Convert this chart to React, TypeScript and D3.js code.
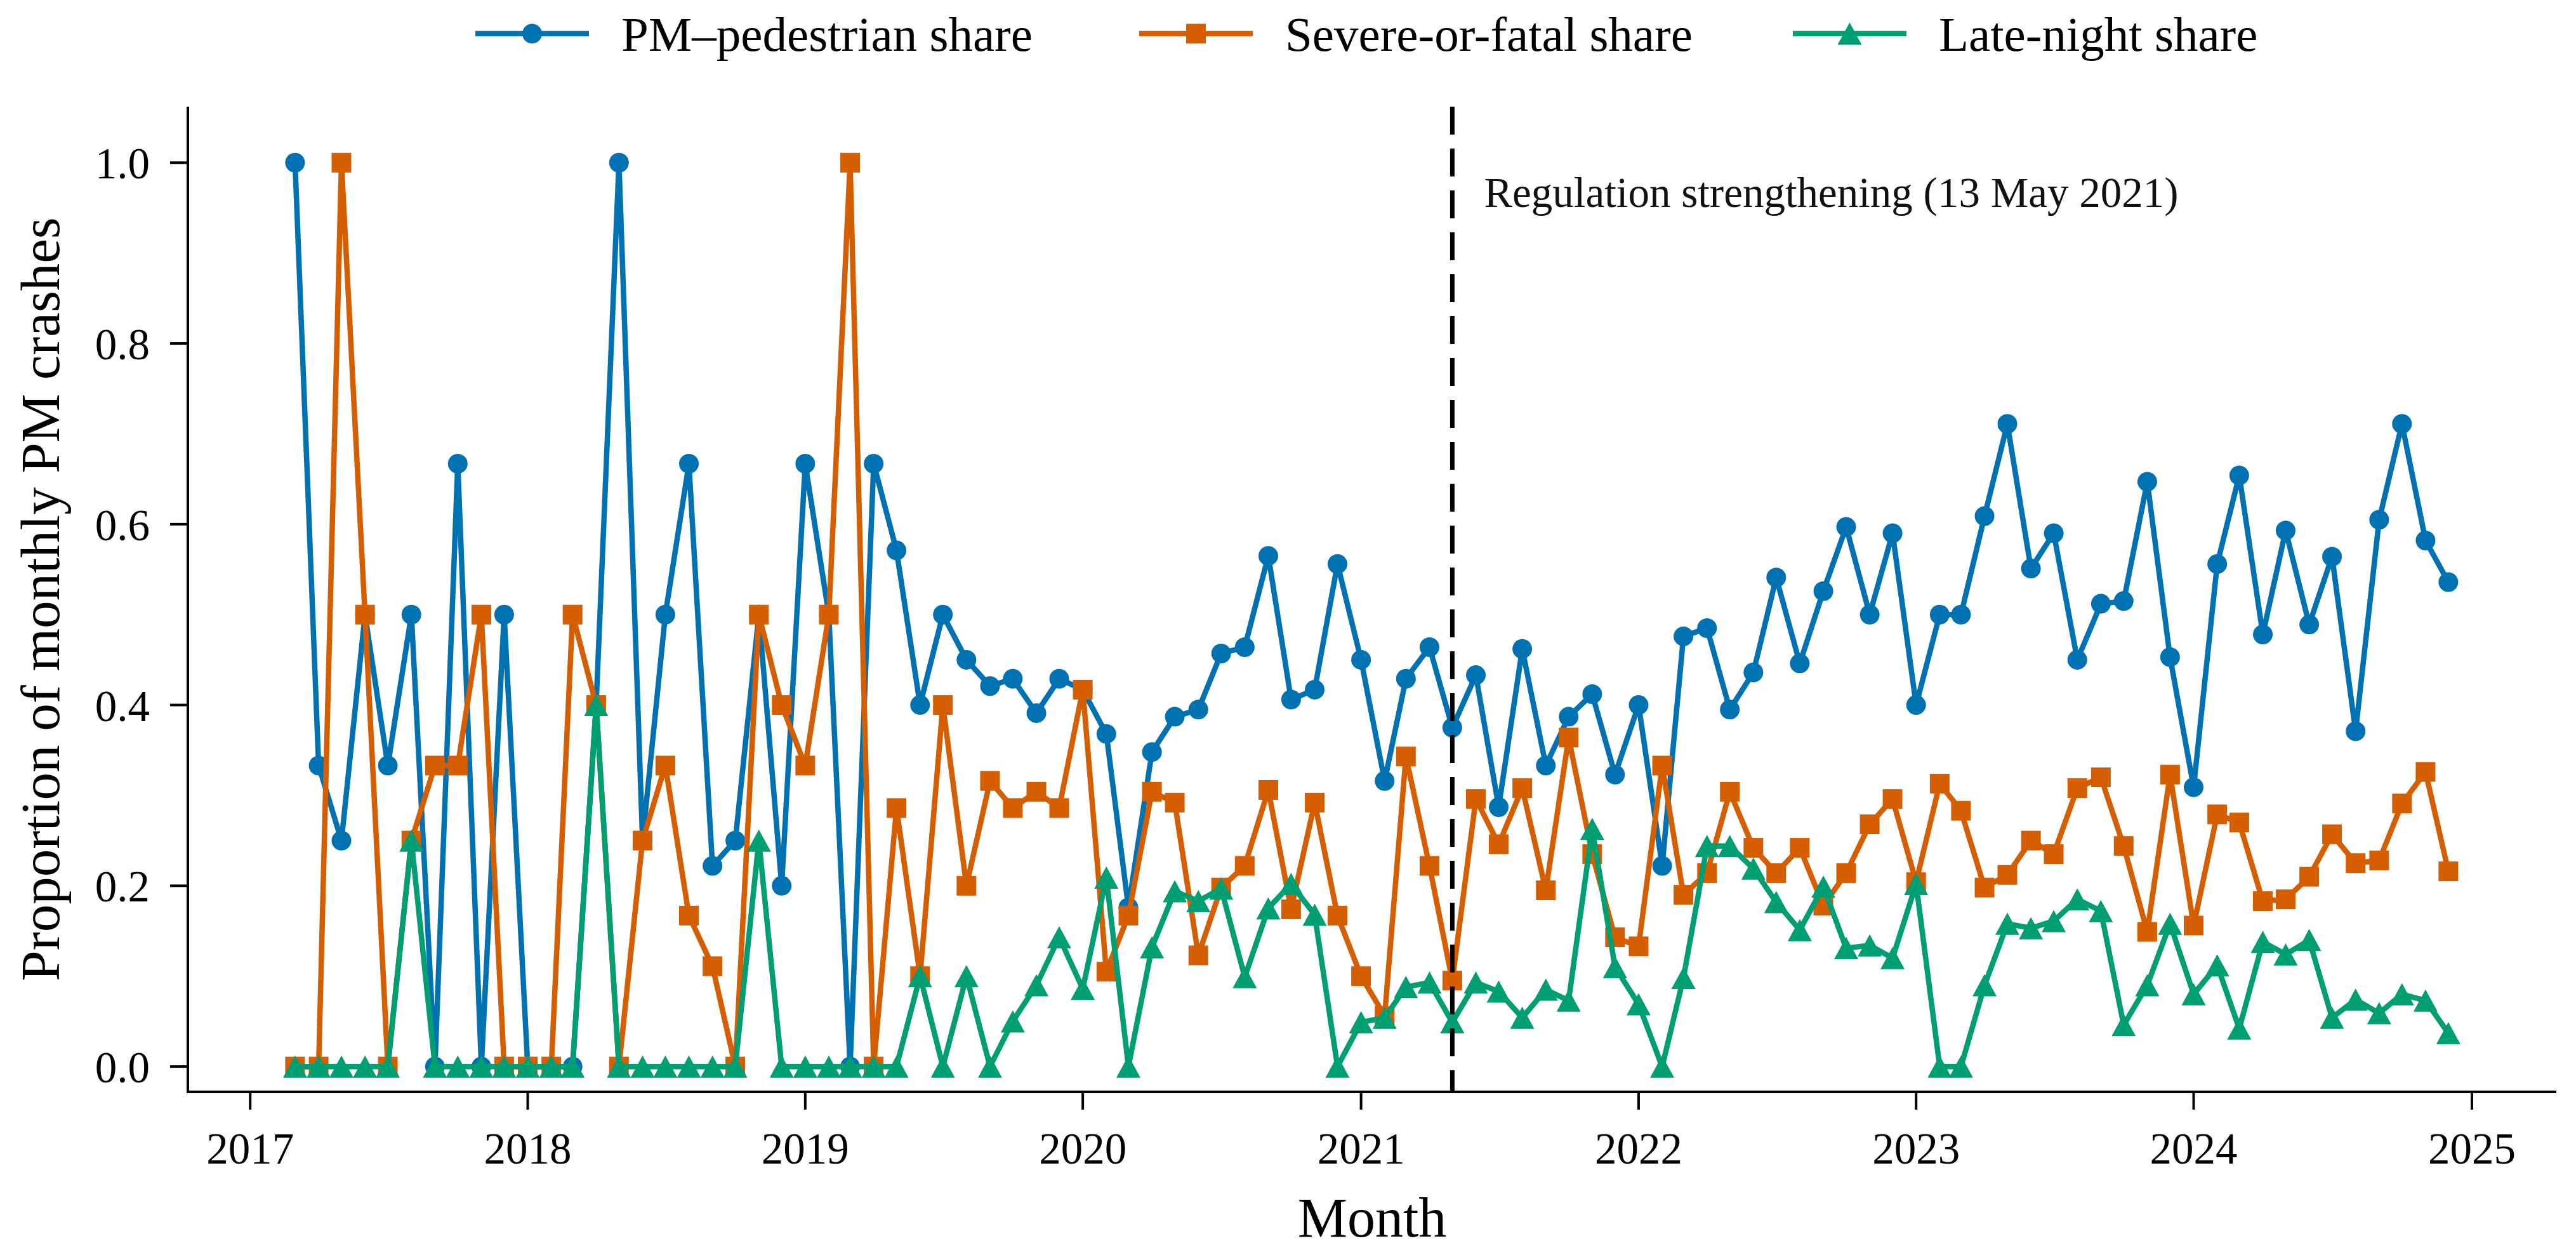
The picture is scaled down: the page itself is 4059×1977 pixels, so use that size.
import React from 'react';
import * as d3 from 'd3';

// ---------- data ----------
const firstMonth = new Date(Date.UTC(2017, 2, 1));
const endMonthExclusive = new Date(Date.UTC(2025, 0, 1));
const months: Date[] = d3.utcMonth.range(firstMonth, endMonthExclusive); // Mar 2017 .. Dec 2024

const pedestrianShare = [
  // 2017 Mar-Dec
  1.0, 0.333, 0.25, 0.5, 0.333, 0.5, 0.0, 0.667, 0.0, 0.5,
  // 2018
  0.0, 0.0, 0.0, 0.4, 1.0, 0.25, 0.5, 0.667, 0.222, 0.25, 0.5, 0.2,
  // 2019
  0.667, 0.5, 0.0, 0.667, 0.571, 0.4, 0.5, 0.45, 0.421, 0.429, 0.391, 0.429,
  // 2020
  0.417, 0.368, 0.176, 0.348, 0.387, 0.395, 0.457, 0.464, 0.565, 0.406, 0.417, 0.556,
  // 2021
  0.45, 0.316, 0.429, 0.464, 0.375, 0.433, 0.287, 0.462, 0.333, 0.387, 0.412, 0.323,
  // 2022
  0.4, 0.222, 0.476, 0.485, 0.395, 0.436, 0.541, 0.446, 0.526, 0.597, 0.5, 0.59,
  // 2023
  0.4, 0.5, 0.5, 0.609, 0.711, 0.551, 0.59, 0.45, 0.512, 0.515, 0.647, 0.453,
  // 2024
  0.309, 0.556, 0.654, 0.478, 0.593, 0.489, 0.564, 0.371, 0.605, 0.711, 0.582, 0.536,
];

const severeShare = [
  0.0, 0.0, 1.0, 0.5, 0.0, 0.25, 0.333, 0.333, 0.5, 0.0,
  0.0, 0.0, 0.5, 0.4, 0.0, 0.25, 0.333, 0.167, 0.111, 0.0, 0.5, 0.4,
  0.333, 0.5, 1.0, 0.0, 0.286, 0.1, 0.4, 0.2, 0.316, 0.286, 0.304, 0.286,
  0.417, 0.105, 0.167, 0.304, 0.292, 0.123, 0.198, 0.222, 0.306, 0.174, 0.292, 0.167,
  0.1, 0.056, 0.343, 0.222, 0.095, 0.296, 0.246, 0.308, 0.195, 0.364, 0.235, 0.143,
  0.133, 0.333, 0.19, 0.214, 0.304, 0.242, 0.214, 0.242, 0.178, 0.214, 0.268, 0.296,
  0.204, 0.313, 0.283, 0.198, 0.212, 0.25, 0.235, 0.308, 0.32, 0.244, 0.149, 0.323,
  0.156, 0.279, 0.27, 0.183, 0.185, 0.21, 0.257, 0.225, 0.228, 0.291, 0.326, 0.216,
];

const lateNightShare = [
  0.0, 0.0, 0.0, 0.0, 0.0, 0.25, 0.0, 0.0, 0.0, 0.0,
  0.0, 0.0, 0.0, 0.4, 0.0, 0.0, 0.0, 0.0, 0.0, 0.0, 0.25, 0.0,
  0.0, 0.0, 0.0, 0.0, 0.0, 0.1, 0.0, 0.1, 0.0, 0.05, 0.09, 0.143,
  0.086, 0.209, 0.0, 0.132, 0.194, 0.183, 0.197, 0.099, 0.175, 0.202, 0.168, 0.0,
  0.049, 0.054, 0.088, 0.093, 0.049, 0.093, 0.083, 0.054, 0.085, 0.073, 0.263, 0.11,
  0.069, 0.0, 0.098, 0.244, 0.244, 0.219, 0.182, 0.151, 0.199, 0.131, 0.134, 0.12,
  0.202, 0.0, 0.0, 0.09, 0.158, 0.153, 0.161, 0.185, 0.172, 0.046, 0.09, 0.158,
  0.08, 0.112, 0.042, 0.138, 0.124, 0.14, 0.054, 0.074, 0.059, 0.08, 0.073, 0.037,
];

const seriesNames = ['PM\u2013pedestrian share', 'Severe-or-fatal share', 'Late-night share'];
const seriesColors = ['#0072B2', '#D55E00', '#009E73'];
const seriesMarkers = ['circle', 'square', 'triangle'];
const seriesValues = [pedestrianShare, severeShare, lateNightShare];

const yTickValues = [0.0, 0.2, 0.4, 0.6, 0.8, 1.0];
const xTickYears = [2017, 2018, 2019, 2020, 2021, 2022, 2023, 2024, 2025];

const regulationDate = new Date(Date.UTC(2021, 4, 1));
const regulationLabel = 'Regulation strengthening (13 May 2021)';
const xAxisLabel = 'Month';
const yAxisLabel = 'Proportion of monthly PM crashes';

// ---------- layout ----------
const W = 4059;
const H = 1977;
const plotLeft = 296;
const plotRight = 4028;
const plotTop = 168;
const plotBottom = 1720;
const FONT = '"Liberation Serif", "DejaVu Serif", serif';

const x = d3
  .scaleUtc()
  .domain([new Date(Date.UTC(2016, 9, 11)), new Date(Date.UTC(2025, 3, 22))])
  .range([plotLeft, plotRight]);
const y = d3.scaleLinear().domain([-0.028, 1.062]).range([plotBottom, plotTop]);

const LINE_W = 8.5;
const MARK_R = 15.5;
const SQ = 31;
const TRI_W = 38;
const TRI_H = 35;

function Marker({ kind, cx, cy, color }: { kind: string; cx: number; cy: number; color: string }) {
  if (kind === 'circle') return <circle cx={cx} cy={cy} r={MARK_R} fill={color} />;
  if (kind === 'square')
    return <rect x={cx - SQ / 2} y={cy - SQ / 2} width={SQ} height={SQ} fill={color} />;
  const p = d3.path();
  p.moveTo(cx, cy - TRI_H / 2);
  p.lineTo(cx + TRI_W / 2, cy + TRI_H / 2);
  p.lineTo(cx - TRI_W / 2, cy + TRI_H / 2);
  p.closePath();
  return <path d={p.toString()} fill={color} />;
}

export default function App() {
  const line = d3
    .line<number>()
    .x((_, i) => x(months[i]))
    .y((v) => y(v));

  const legendX = [749, 1795, 2825];
  const legendLineLen = 179;
  const legendY = 53;

  const regX = x(regulationDate);

  return (
    <svg
      width={W}
      height={H}
      viewBox={`0 0 ${W} ${H}`}
      style={{ position: 'absolute', left: 0, top: 0, background: '#fff' }}
      fontFamily={FONT}
    >
      <rect x={0} y={0} width={W} height={H} fill="#fff" />

      {/* series */}
      {seriesValues.map((vals, s) => (
        <g key={s}>
          <path
            d={line(vals) || ''}
            fill="none"
            stroke={seriesColors[s]}
            strokeWidth={LINE_W}
            strokeLinejoin="round"
            strokeLinecap="round"
          />
          {vals.map((v, i) => (
            <Marker key={i} kind={seriesMarkers[s]} cx={x(months[i])} cy={y(v)} color={seriesColors[s]} />
          ))}
        </g>
      ))}

      {/* regulation line */}
      <line
        x1={regX}
        x2={regX}
        y1={plotTop}
        y2={plotBottom}
        stroke="#000"
        strokeWidth={7}
        strokeDasharray="44 22"
      />
      <text x={regX + 50} y={326} fontSize={67} fill="#111">
        {regulationLabel}
      </text>

      {/* axes spines */}
      <line x1={plotLeft} x2={plotLeft} y1={plotTop} y2={plotBottom + 2} stroke="#000" strokeWidth={4} />
      <line x1={plotLeft - 2} x2={plotRight} y1={plotBottom} y2={plotBottom} stroke="#000" strokeWidth={4} />

      {/* y ticks */}
      {yTickValues.map((t) => (
        <g key={t}>
          <line x1={plotLeft - 28} x2={plotLeft} y1={y(t)} y2={y(t)} stroke="#000" strokeWidth={4} />
          <text x={236} y={y(t) + 25} fontSize={69} textAnchor="end" fill="#000">
            {t.toFixed(1)}
          </text>
        </g>
      ))}

      {/* x ticks */}
      {xTickYears.map((yr) => {
        const xx = x(new Date(Date.UTC(yr, 0, 1)));
        return (
          <g key={yr}>
            <line x1={xx} x2={xx} y1={plotBottom} y2={plotBottom + 28} stroke="#000" strokeWidth={4} />
            <text x={xx} y={1833} fontSize={69} textAnchor="middle" fill="#000">
              {yr}
            </text>
          </g>
        );
      })}

      {/* axis labels */}
      <text x={(plotLeft + plotRight) / 2} y={1948} fontSize={88} textAnchor="middle" fill="#000">
        {xAxisLabel}
      </text>
      <text
        transform={`translate(93, ${(plotTop + plotBottom) / 2}) rotate(-90)`}
        fontSize={87}
        textAnchor="middle"
        fill="#000"
      >
        {yAxisLabel}
      </text>

      {/* legend */}
      {seriesNames.map((name, s) => {
        const lx = legendX[s];
        return (
          <g key={name}>
            <line
              x1={lx}
              x2={lx + legendLineLen}
              y1={legendY}
              y2={legendY}
              stroke={seriesColors[s]}
              strokeWidth={LINE_W}
            />
            <Marker kind={seriesMarkers[s]} cx={lx + legendLineLen / 2} cy={legendY} color={seriesColors[s]} />
            <text x={lx + legendLineLen + 51} y={80} fontSize={77} fill="#000">
              {name}
            </text>
          </g>
        );
      })}
    </svg>
  );
}
